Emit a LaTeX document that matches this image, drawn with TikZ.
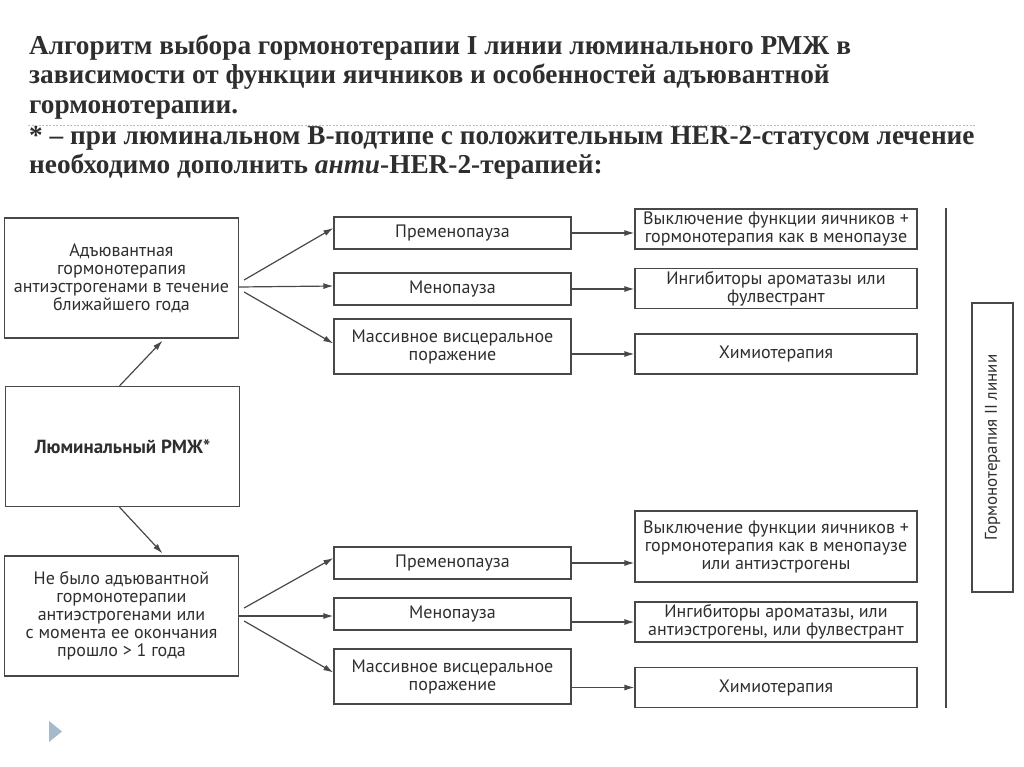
\documentclass[tikz,border=0pt]{standalone}
\usepackage{fontspec}
\setmainfont{Liberation Serif}
\newfontfamily\diafont{PT Sans}
\usetikzlibrary{arrows.meta}

\definecolor{txtgray}{HTML}{2E2E2E}
\definecolor{linegray}{HTML}{484848}
\definecolor{dotgray}{HTML}{B4BCC8}
\definecolor{tribl}{HTML}{A3BBCB}

\begin{document}
\begin{tikzpicture}[x=1pt,y=-1pt,
  >={Latex[length=10pt,width=6pt]},
  box/.style={draw=linegray,line width=1.2pt,inner sep=0pt,align=center,
    text=txtgray,font=\diafont\fontsize{18}{18}\selectfont},
  leftbox/.style={box,minimum width=234pt,minimum height=120pt},
  midbox/.style={box,minimum width=237pt,minimum height=32pt},
  rightbox/.style={box,minimum width=282pt,minimum height=40pt},
  title/.style={anchor=base west,inner sep=0pt,text=txtgray,
    font=\bfseries\fontsize{27.3}{30}\selectfont},
  arr/.style={->,draw=linegray,line width=1.2pt}]
\useasboundingbox (0,0) rectangle (1024,767);

% heading
\node[title] (t1) at (29,55) {Алгоритм выбора гормонотерапии I линии люминального РМЖ в};
\node[title] (t2) at (29,84) {зависимости от функции яичников и особенностей адъювантной};
\node[title] (t3) at (29,114) {гормонотерапии.};
\draw[dotgray,line width=0.8pt,dash pattern=on 2pt off 1.5pt] (28,125) -- (975,125);
\node[title] (t4) at (29,145) {* – при люминальном В-подтипе с положительным HER-2-статусом лечение};
\node[title] (t5) at (29,174) {необходимо дополнить \textit{анти}-HER-2-терапией:};

% left column
\node[leftbox] (adj) at (121.5,278) {Адъювантная\\гормонотерапия\\антиэстрогенами в течение\\ближайшего года};
\node[leftbox,font=\diafont\bfseries\fontsize{19}{19}\selectfont] (lum) at (122.5,446.5) {Люминальный РМЖ*};
\node[leftbox] (noadj) at (121.5,616) {Не было адъювантной\\гормонотерапии\\антиэстрогенами или\\с момента ее окончания\\прошло > 1 года};

% upper branch
\node[midbox] (pre1) at (452.5,233) {Пременопауза};
\node[midbox] (meno1) at (452.5,289) {Менопауза};
\node[midbox,minimum height=55pt] (visc1) at (452.5,346.5) {Массивное висцеральное\\поражение};
\node[rightbox] (ovar1) at (776,229) {Выключение функции яичников +\\гормонотерапия как в менопаузе};
\node[rightbox] (arom1) at (776,288.5) {Ингибиторы ароматазы или\\фулвестрант};
\node[rightbox] (chemo1) at (776,354) {Химиотерапия};

% lower branch
\node[midbox] (pre2) at (452.5,563) {Пременопауза};
\node[midbox] (meno2) at (452.5,614) {Менопауза};
\node[midbox,minimum height=55pt] (visc2) at (452.5,676.5) {Массивное висцеральное\\поражение};
\node[rightbox,minimum height=71pt] (ovar2) at (776,546.5) {Выключение функции яичников +\\гормонотерапия как в менопаузе\\или антиэстрогены};
\node[rightbox] (arom2) at (776,622) {Ингибиторы ароматазы, или\\антиэстрогены, или фулвестрант};
\node[rightbox] (chemo2) at (776,687.5) {Химиотерапия};

% second line
\draw[linegray,line width=1.5pt] (946,208) -- (946,708);
\node[box,minimum width=289pt,minimum height=41pt,rotate=90,
  font=\diafont\fontsize{17}{18}\selectfont] (second) at (992.5,447.5) {Гормонотерапия II линии};

% arrows
\draw[arr] ([xshift=-3pt]lum.north) -- ([xshift=41pt,yshift=-2pt]adj.south);
\draw[arr] ([xshift=-3pt]lum.south) -- ([xshift=41pt,yshift=2pt]noadj.north);
\draw[arr] ([xshift=5pt,yshift=-2pt]adj.east) -- ([yshift=5pt]pre1.west);
\draw[arr] ([yshift=-9pt]adj.east) -- ([yshift=3pt]meno1.west);
\draw[arr] ([xshift=5pt,yshift=-14pt]adj.east) -- ([yshift=3pt]visc1.west);
\draw[arr] ([xshift=5pt,yshift=8pt]noadj.east) -- ([yshift=5pt]pre2.west);
\draw[arr] (noadj.east) -- (noadj.east -| meno2.west);
\draw[arr] ([xshift=5pt,yshift=-5pt]noadj.east) -- ([yshift=4pt]visc2.west);
\draw[arr] (pre1.east) -- (pre1.east -| ovar1.west);
\draw[arr] (meno1.east) -- (meno1.east -| arom1.west);
\draw[arr] (visc1.east |- chemo1.west) -- (chemo1.west);
\draw[arr] (pre2.east) -- (pre2.east -| ovar2.west);
\draw[arr] (meno2.east |- arom2.west) -- (arom2.west);
\draw[arr] (visc2.east |- chemo2.west) -- (chemo2.west);

% slide marker
\fill[tribl] (49,721) -- (62,731.5) -- (49,742) -- cycle;
\end{tikzpicture}
\end{document}
